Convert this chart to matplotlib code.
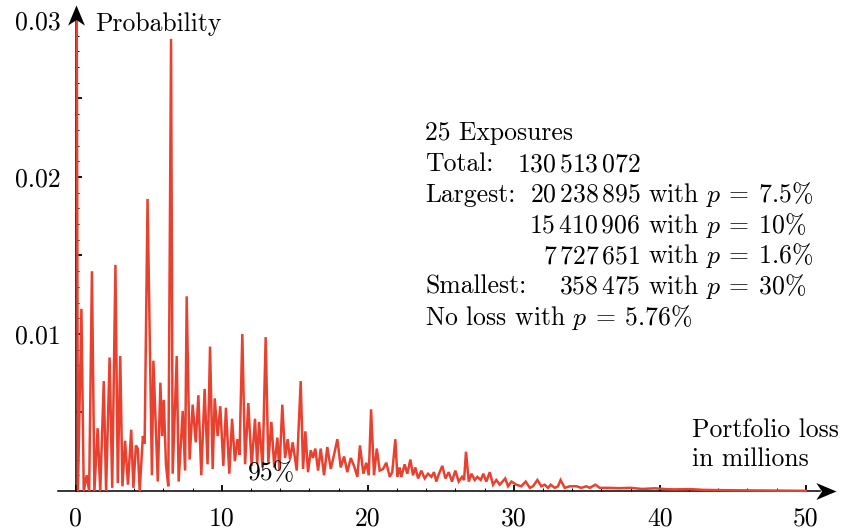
import numpy as np
import matplotlib
matplotlib.use("Agg")
import matplotlib.pyplot as plt
from matplotlib.path import Path
from matplotlib.ticker import FixedLocator, FixedFormatter

plt.rcParams["font.family"] = "cmr10"
plt.rcParams["mathtext.fontset"] = "cm"
plt.rcParams["axes.formatter.use_mathtext"] = True

# portfolio loss (millions) and probability
loss_m = [0, 0.15, 0.39, 0.55, 0.75, 0.92, 1.11, 1.28, 1.50, 1.68, 1.92, 2.08, 2.32, 2.50,
          2.72, 2.88, 3.05, 3.20, 3.38, 3.58, 3.80, 3.95, 4.12, 4.25, 4.38, 4.60, 4.72, 4.92,
          5.22, 5.32, 5.62, 5.80, 5.92, 6.03, 6.18, 6.34, 6.53, 6.64, 6.92, 7.05, 7.33, 7.49,
          7.60, 7.80, 8.01, 8.22, 8.40, 8.60, 8.83, 9.03, 9.20, 9.38, 9.52, 9.72, 9.90,
          10.11, 10.29, 10.52, 10.71, 10.90, 11.08, 11.22, 11.41, 11.60, 11.82, 12.05, 12.28,
          12.43, 12.56, 12.80, 13.01, 13.19, 13.40, 13.60, 13.81, 13.95, 14.15, 14.34, 14.52,
          14.68, 14.86, 15.14, 15.41,
          15.57, 15.73, 15.91, 16.10, 16.25, 16.41, 16.60, 16.78, 17.01, 17.23, 17.47, 17.69,
          17.92, 18.15, 18.38, 18.60, 18.84, 19.06, 19.29, 19.47, 19.70, 19.90, 20.07, 20.23,
          20.43, 20.62, 20.82, 21.05, 21.27, 21.51, 21.68, 21.89, 22.03, 22.19,
          22.30, 22.53, 22.71, 22.92, 23.10, 23.26, 23.45, 23.67, 23.90, 24.13, 24.36, 24.54,
          24.70, 24.88, 25.11, 25.32, 25.55, 25.77, 26.00, 26.23, 26.46, 26.60, 26.73, 26.92,
          27.10, 27.33, 27.51, 27.74, 27.92, 28.12, 28.36, 28.58, 28.81, 29.04, 29.23, 29.42,
          29.61, 29.84, 30.18, 30.52, 30.82, 31.10, 31.32, 31.62, 31.89, 32.12, 32.35, 32.53,
          32.81, 33.03, 33.21,
          33.49, 33.84, 34.29, 34.63, 34.97, 35.21, 35.59, 35.89, 36.5, 37.2, 38.0, 38.8,
          39.7, 40.4, 41.0, 42.1, 43.0, 44.5, 46.0, 48.0, 50.0]
prob = [0.0576, 0.0, 0.0116, 0.0, 0.0010, 0.0, 0.0140, 0.0, 0.0040, 0.0, 0.0070, 0.0, 0.0085, 0.0002,
        0.0144, 0.0005, 0.0086, 0.0003, 0.0032, 0.0004, 0.0039, 0.0002, 0.0029, 0.0027, 0.0, 0.0035, 0.0030, 0.0186,
        0.0010, 0.0083, 0.0006, 0.0069, 0.0035, 0.0058, 0.0017, 0.0003, 0.0288, 0.0011, 0.0086, 0.0006, 0.0051, 0.0013,
        0.0124, 0.0020, 0.0055, 0.0031, 0.0061, 0.0010, 0.0065, 0.0017, 0.0092, 0.0014, 0.0059, 0.0035, 0.0054,
        0.0016, 0.0053, 0.0011, 0.0046, 0.0019, 0.0033, 0.0023, 0.0100, 0.0017, 0.0056, 0.0016, 0.0046,
        0.0017, 0.0044, 0.0015, 0.0098, 0.0018, 0.0044, 0.0015, 0.0034, 0.0013, 0.0055, 0.0021, 0.0033,
        0.0020, 0.0031, 0.0013, 0.0070,
        0.0014, 0.0038, 0.0012, 0.0026, 0.0021, 0.0027, 0.0013, 0.0027, 0.0010, 0.0028, 0.0014, 0.0023,
        0.0033, 0.0015, 0.0022, 0.0012, 0.0021, 0.0016, 0.0009, 0.0029, 0.0011, 0.0018, 0.0010, 0.0052,
        0.0010, 0.0027, 0.0013, 0.0014, 0.0018, 0.0009, 0.0012, 0.0033, 0.0009, 0.0015,
        0.0009, 0.0017, 0.0011, 0.0020, 0.0010, 0.0015, 0.0008, 0.0013, 0.0008, 0.0011, 0.0009, 0.0012,
        0.0006, 0.0011, 0.0016, 0.0008, 0.0012, 0.0006, 0.0013, 0.0006, 0.0009, 0.0007, 0.0025, 0.0006,
        0.0011, 0.0007, 0.0009, 0.0007, 0.0011, 0.0006, 0.0012, 0.0004, 0.0007, 0.0004, 0.0006, 0.0008,
        0.0003, 0.0006, 0.0004, 0.0003, 0.0006, 0.0002, 0.0003, 0.0007, 0.0003, 0.0004, 0.0002, 0.0004,
        0.0002, 0.0003, 0.0007,
        0.0002, 0.0003, 0.0003, 0.0002, 0.0003, 0.0002, 0.0004, 0.0002, 0.0002, 0.00018, 0.0002, 0.00013,
        0.00017, 0.00012, 0.0001, 0.00012, 0.00007, 0.00005, 0.00004, 0.00002, 0.00001]

x_major = [0, 10, 20, 30, 40, 50]
x_labels = ["0", "10", "20", "30", "40", "50"]
y_major = [0.005, 0.01, 0.015, 0.02, 0.025, 0.03]
y_labels = ["", "0.01", "", "0.02", "", "0.03"]

RED = "#e8412f"
W, H = 843, 529


def fx(px):
    return px / W


def fy(py):
    return 1 - py / H


fig = plt.figure(figsize=(W / 100, H / 100), dpi=100)
# axes placed so that x=0 -> 75.7px, 10 units = 146px ; y=0 -> 491px, 0.001 = 15.7px
ax = fig.add_axes([58.2 / W, 1 - 495.7 / H, (836.4 - 58.2) / W, (495.7 - 20) / H])
ax.set_xlim(-1.2, 52.1)
ax.set_ylim(-0.0003, 0.03)

for s in ["top", "right"]:
    ax.spines[s].set_visible(False)
ax.spines["bottom"].set_position(("data", 0))
ax.spines["left"].set_position(("data", 0))
ax.spines["bottom"].set_bounds(-1.2, 51.0)
ax.spines["left"].set_bounds(0, 0.0300)
for s in ["bottom", "left"]:
    ax.spines[s].set_linewidth(1.1)
    ax.spines[s].set_zorder(2)

# stealth-like arrow heads
head_x = Path([(0, 0), (-1, 0.42), (-0.72, 0), (-1, -0.42), (0, 0)],
              [Path.MOVETO, Path.LINETO, Path.LINETO, Path.LINETO, Path.CLOSEPOLY])
head_y = Path([(0, 0), (0.42, -1), (0, -0.72), (-0.42, -1), (0, 0)],
              [Path.MOVETO, Path.LINETO, Path.LINETO, Path.LINETO, Path.CLOSEPOLY])
ax.plot([52.08], [0], marker=head_x, ms=29, color="black", mew=0, clip_on=False, zorder=4)
ax.plot([0], [0.03096], marker=head_y, ms=29, color="black", mew=0, clip_on=False, zorder=4)

ax.plot(loss_m, prob, color=RED, lw=1.8, zorder=3, solid_joinstyle="miter")

ax.xaxis.set_major_locator(FixedLocator(x_major))
ax.xaxis.set_major_formatter(FixedFormatter(x_labels))
ax.xaxis.set_minor_locator(FixedLocator([v for v in range(2, 50, 2) if v % 10]))
ax.yaxis.set_major_locator(FixedLocator(y_major))
ax.yaxis.set_major_formatter(FixedFormatter(y_labels))
ax.yaxis.set_minor_locator(FixedLocator([i / 1000 for i in range(1, 30) if i % 5]))

ax.tick_params(axis="both", which="major", direction="in", length=4, width=1.3,
               labelsize=18.5, colors="black")
ax.tick_params(axis="both", which="minor", direction="in", length=2.5, width=0.7)
ax.tick_params(axis="x", which="major", pad=11)
ax.tick_params(axis="y", which="major", pad=11)

fs = 18.5
fig.text(fx(95.5), fy(30.5), "Probability", fontsize=fs, va="baseline", ha="left")
fig.text(fx(692.5), fy(436.7), "Portfolio loss", fontsize=fs, va="baseline", ha="left")
fig.text(fx(692.5), fy(466.5), "in millions", fontsize=fs, va="baseline", ha="left")
fig.text(fx(248), fy(480), r"95%", fontsize=fs, va="baseline", ha="left")

left = 425
num_r = 640.5
with_l = 648.5
fig.text(fx(left), fy(140), "25 Exposures", fontsize=fs, va="baseline")
fig.text(fx(left), fy(171), "Total:", fontsize=fs, va="baseline")
fig.text(fx(num_r), fy(171), r"$130\,513\,072$", fontsize=fs, va="baseline", ha="right")
fig.text(fx(left), fy(201.7), "Largest:", fontsize=fs, va="baseline")
rows = [(201.7, r"$20\,238\,895$", r"with $p\:=\:7.5\%$"),
        (232.7, r"$15\,410\,906$", r"with $p\:=\:10\%$"),
        (263.3, r"$7\,727\,651$", r"with $p\:=\:1.6\%$"),
        (294.0, r"$358\,475$", r"with $p\:=\:30\%$")]
for py, num, tail in rows:
    fig.text(fx(num_r), fy(py), num, fontsize=fs, va="baseline", ha="right")
    fig.text(fx(with_l), fy(py), tail, fontsize=fs, va="baseline", ha="left")
fig.text(fx(left), fy(294.0), "Smallest:", fontsize=fs, va="baseline")
fig.text(fx(left), fy(325), r"No loss with $p\:=\:5.76\%$", fontsize=fs, va="baseline")

fig.savefig("out.png", dpi=100)
